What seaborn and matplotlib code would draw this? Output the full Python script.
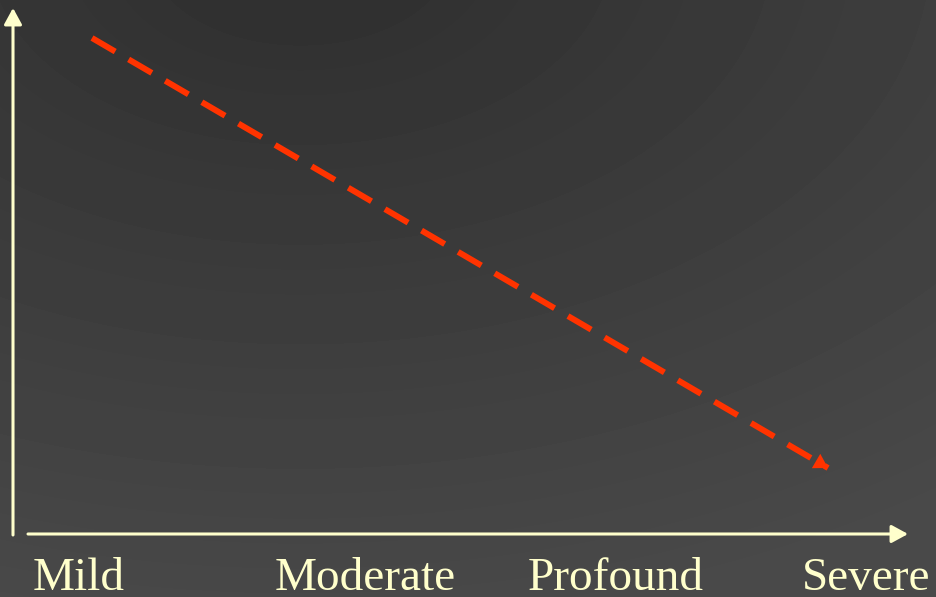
import numpy as np
import seaborn as sns
import matplotlib
matplotlib.use("Agg")
import matplotlib.pyplot as plt
import pandas as pd

# severity scale and the trend drawn over it
categories = ["Mild", "Moderate", "Profound", "Severe"]
severity = [0, 3]
score = [9, 1]

cream = "#FFFFCC"
red = "#FF3300"

sns.set_theme(style="white")
plt.rcParams["font.family"] = ["Liberation Serif", "DejaVu Serif"]

fig = plt.figure(figsize=(9.36, 5.97), dpi=100)

# dark gradient backdrop, darkest near the top middle-left
bg = fig.add_axes([0, 0, 1, 1])
yy, xx = np.mgrid[0:597, 0:936]
dist = np.sqrt(((xx - 300) / 1.6) ** 2 + (yy + 50) ** 2)
shade = np.clip(46 + 0.04 * dist, 46, 73) / 255
bg.imshow(shade, cmap="gray", vmin=0, vmax=1, aspect="auto", extent=[0, 1, 0, 1])
bg.set_axis_off()

ax = fig.add_axes([0, 0, 1, 1])
ax.patch.set_alpha(0)
df = pd.DataFrame({"severity": severity, "score": score})
sns.lineplot(data=df, x="severity", y="score", ax=ax, color=red, lw=4.3,
             dashes=False, linestyle=(0, (4.5, 2.6)))
ax.lines[0].set_dash_capstyle("butt")
ax.set_xlim(-0.375, 3.44)
ax.set_ylim(-1.4, 9.707)
ax.set_axis_off()

# arrow tip on the trend line
ax.annotate("", xy=(severity[-1], score[-1]),
            xytext=(severity[-1] - 0.05, score[-1] + 0.05 * 8 / 3),
            arrowprops=dict(arrowstyle="-|>,head_length=0.5,head_width=0.3",
                            color=red, lw=0, shrinkA=0, shrinkB=0,
                            mutation_scale=20))

# hand-drawn style axes
W, H = 936, 597
axis_arrow = dict(arrowstyle="-|>,head_length=0.55,head_width=0.3", color=cream,
                  lw=2.2, shrinkA=0, shrinkB=0, mutation_scale=18)
ax.annotate("", xy=(13 / W, 1 - 8 / H), xytext=(13 / W, 1 - 535 / H),
            xycoords="axes fraction", arrowprops=axis_arrow)
ax.annotate("", xy=(908 / W, 1 - 534 / H), xytext=(28 / W, 1 - 534 / H),
            xycoords="axes fraction", arrowprops=axis_arrow)

label_x = [79, 365, 616, 866]
for name, px in zip(categories, label_x):
    ax.text(px / W, 7 / H, name, transform=ax.transAxes, ha="center",
            va="baseline", fontsize=34, color=cream)

fig.savefig("out.png", dpi=100)
